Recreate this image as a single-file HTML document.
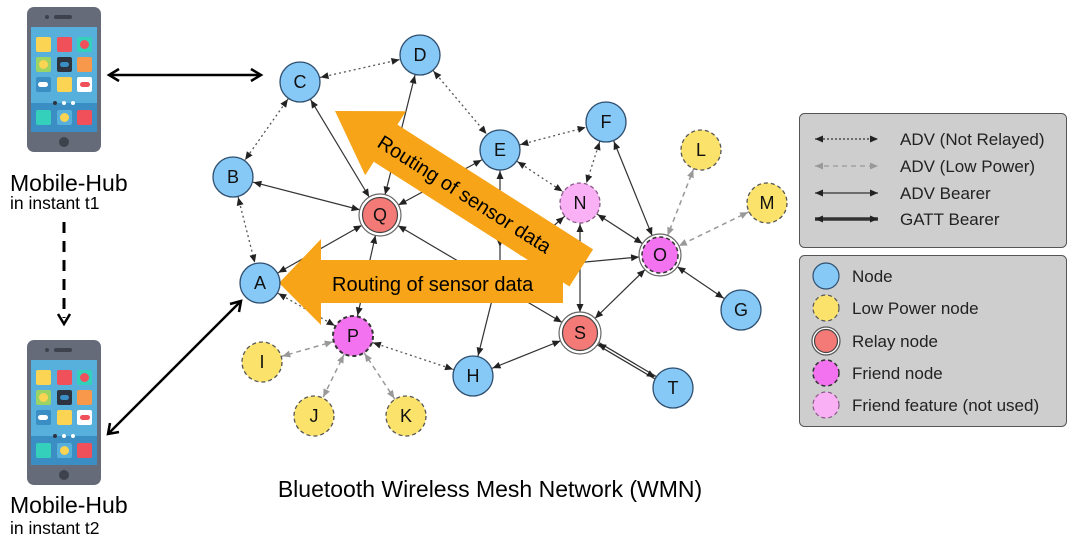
<!DOCTYPE html>
<html><head><meta charset="utf-8"><style>
html,body{margin:0;padding:0;background:#fff;width:1085px;height:549px;overflow:hidden}
svg{display:block;font-family:"Liberation Sans",Arial,sans-serif}
</style></head><body>
<svg width="1085" height="549" viewBox="0 0 1085 549" xmlns="http://www.w3.org/2000/svg">
<defs>
<marker id="ab" markerUnits="userSpaceOnUse" viewBox="-10 -5 35 10" refX="21" refY="0" markerWidth="35" markerHeight="10" orient="auto-start-reverse"><path d="M-8,-3.5 L0,0 L-8,3.5z" fill="#222"/></marker>
<marker id="ag" markerUnits="userSpaceOnUse" viewBox="-10 -5 35 10" refX="21" refY="0" markerWidth="35" markerHeight="10" orient="auto-start-reverse"><path d="M-8,-3.5 L0,0 L-8,3.5z" fill="#999"/></marker>
<marker id="al" markerUnits="userSpaceOnUse" viewBox="-10 -5 35 10" refX="0" refY="0" markerWidth="35" markerHeight="10" orient="auto-start-reverse"><path d="M-8,-3.5 L0,0 L-8,3.5z" fill="#222"/></marker>
<marker id="alg" markerUnits="userSpaceOnUse" viewBox="-10 -5 35 10" refX="0" refY="0" markerWidth="35" markerHeight="10" orient="auto-start-reverse"><path d="M-8,-3.5 L0,0 L-8,3.5z" fill="#999"/></marker>
<g id="phone">
<rect x="0" y="0" width="74" height="145" rx="7" fill="#656b78"/>
<rect x="4" y="20" width="66" height="105" fill="#57b0dc"/>
<rect x="4" y="96" width="66" height="29" fill="#3b8ec4"/>
<circle cx="20" cy="10" r="2" fill="#3d424c"/><rect x="27" y="8" width="18" height="4" rx="2" fill="#3d424c"/>
<circle cx="37" cy="135" r="5" fill="#3d424c"/>
<rect x="9" y="30" width="15" height="15" rx="2" fill="#fbd453"/>
<rect x="30" y="30" width="15" height="15" rx="2" fill="#f0505a"/>
<rect x="50" y="30" width="15" height="15" rx="2" fill="#35d0bc"/><circle cx="57.5" cy="37.5" r="4.5" fill="#f0505a"/>
<rect x="9" y="50" width="15" height="15" rx="2" fill="#9bd364"/><circle cx="16.5" cy="57.5" r="4.5" fill="#fbd453"/>
<rect x="30" y="50" width="15" height="15" rx="2" fill="#2e3340"/><rect x="33" y="55" width="9" height="5" rx="2.5" fill="#3b8ec4"/>
<rect x="50" y="50" width="15" height="15" rx="2" fill="#f7984a"/>
<rect x="9" y="70" width="15" height="15" rx="2" fill="#3b8ec4"/><rect x="11" y="75" width="10" height="5" rx="2.5" fill="#fff"/>
<rect x="30" y="70" width="15" height="15" rx="2" fill="#fbd453"/>
<rect x="50" y="70" width="15" height="15" rx="2" fill="#fff"/><rect x="53" y="75" width="10" height="5" rx="2.5" fill="#f0505a"/>
<circle cx="28" cy="96" r="2" fill="#2e3340"/><circle cx="37" cy="96" r="2" fill="#fff"/><circle cx="46" cy="96" r="2" fill="#fff"/>
<rect x="9" y="103" width="15" height="15" rx="2" fill="#35d0bc"/>
<rect x="30" y="103" width="15" height="15" rx="2" fill="#57b0dc"/><circle cx="37.5" cy="110.5" r="4.5" fill="#fbd453"/>
<rect x="50" y="103" width="15" height="15" rx="2" fill="#f0505a"/>
</g>
</defs>

<use href="#phone" x="27" y="7"/>
<use href="#phone" x="27" y="340"/>
<text x="10" y="191" font-size="23" fill="#000">Mobile-Hub</text>
<text x="10" y="209" font-size="17.5" fill="#000">in instant t1</text>
<text x="10" y="513" font-size="23" fill="#000">Mobile-Hub</text>
<text x="10" y="534" font-size="17.5" fill="#000">in instant t2</text>
<line x1="64" y1="222" x2="64" y2="318" stroke="#000" stroke-width="3" stroke-dasharray="11,8"/>
<path d="M58,314 L64,324 L70,314" fill="none" stroke="#000" stroke-width="2.5"/>
<line x1="110" y1="75" x2="260" y2="75" stroke="#000" stroke-width="2.5"/>
<path d="M119,69 L109,75 L119,81 M251,69 L261,75 L251,81" fill="none" stroke="#000" stroke-width="2.5"/>
<line x1="109" y1="433" x2="240" y2="302" stroke="#000" stroke-width="2.5"/>
<path d="M110,423 L108,434 L119,432 M230,304 L241,301 L239,312" fill="none" stroke="#000" stroke-width="2.5"/>

<g fill="none">
<g stroke="#555" stroke-width="1.3" stroke-dasharray="2,3" marker-start="url(#ab)" marker-end="url(#ab)">
<line x1="300" y1="82" x2="420" y2="55"/>
<line x1="300" y1="82" x2="233" y2="177"/>
<line x1="420" y1="55" x2="500" y2="150"/>
<line x1="233" y1="177" x2="260" y2="283"/>
<line x1="500" y1="150" x2="606" y2="122"/>
<line x1="500" y1="150" x2="580" y2="203"/>
<line x1="606" y1="122" x2="580" y2="203"/>
<line x1="260" y1="283" x2="353" y2="336"/>
<line x1="353" y1="336" x2="473" y2="376"/>
</g>
<g stroke="#999" stroke-width="1.5" stroke-dasharray="5,4" marker-start="url(#ag)" marker-end="url(#ag)">
<line x1="701" y1="150" x2="660" y2="255"/>
<line x1="767" y1="203" x2="660" y2="255"/>
<line x1="353" y1="336" x2="262" y2="362"/>
<line x1="353" y1="336" x2="314" y2="416"/>
<line x1="353" y1="336" x2="406" y2="416"/>
</g>
<g stroke="#333" stroke-width="1.2" marker-start="url(#ab)" marker-end="url(#ab)">
<line x1="300" y1="82" x2="380" y2="215"/>
<line x1="420" y1="55" x2="380" y2="215"/>
<line x1="233" y1="177" x2="380" y2="215"/>
<line x1="260" y1="283" x2="380" y2="215"/>
<line x1="380" y1="215" x2="500" y2="150"/>
<line x1="380" y1="215" x2="580" y2="333"/>
<line x1="500" y1="150" x2="500" y2="268"/>
<line x1="606" y1="122" x2="660" y2="255"/>
<line x1="580" y1="203" x2="660" y2="255"/>
<line x1="580" y1="203" x2="580" y2="333"/>
<line x1="660" y1="255" x2="580" y2="333"/>
<line x1="660" y1="255" x2="741" y2="310"/>
<line x1="353" y1="336" x2="380" y2="215"/>
<line x1="473" y1="376" x2="580" y2="333"/>
<line x1="473" y1="376" x2="500" y2="268"/>
<line x1="500" y1="270" x2="660" y2="255"/>
<line x1="520" y1="255" x2="580" y2="203"/>
</g>
<line x1="580" y1="333" x2="673" y2="388" stroke="#333" stroke-width="4"/>
<line x1="580" y1="333" x2="673" y2="388" stroke="#fff" stroke-width="1.5" marker-start="url(#ab)" marker-end="url(#ab)"/>
</g>

<g fill="#f7a418">
<polygon transform="translate(335,111) rotate(32.5)" points="0,0 60,-38 60,-22 292,-22 292,22 60,22 60,38"/>
<polygon points="279,283 321,239 321,260 563,260 563,303 321,303 321,325"/>
</g>
<text transform="translate(376,146) rotate(32.5)" font-size="20" fill="#000">Routing of sensor data</text>
<text x="332" y="291" font-size="20" fill="#000">Routing of sensor data</text>

<g stroke="#2f4f6f" stroke-width="1.3" fill="#86c9f7">
<circle cx="300" cy="82" r="20"/><circle cx="420" cy="55" r="20"/><circle cx="233" cy="177" r="20"/>
<circle cx="500" cy="150" r="20"/><circle cx="606" cy="122" r="20"/><circle cx="260" cy="283" r="20"/>
<circle cx="741" cy="310" r="20"/><circle cx="473" cy="376" r="20"/><circle cx="673" cy="388" r="20"/>
</g>
<g stroke="#555" stroke-width="1.3" stroke-dasharray="4,3" fill="#fbe26a">
<circle cx="701" cy="150" r="20"/><circle cx="767" cy="203" r="20"/><circle cx="262" cy="362" r="20"/>
<circle cx="314" cy="416" r="20"/><circle cx="406" cy="416" r="20"/>
</g>
<circle cx="580" cy="203" r="20" fill="#f9b0f5" stroke="#8a5a88" stroke-width="1.3" stroke-dasharray="4,3"/>
<circle cx="353" cy="336" r="20" fill="#f272f0" stroke="#333" stroke-width="2" stroke-dasharray="4,3"/>
<circle cx="660" cy="255" r="21" fill="#fff" stroke="#666" stroke-width="1.2"/>
<circle cx="660" cy="255" r="18" fill="#f272f0" stroke="#333" stroke-width="1.5" stroke-dasharray="4,3"/>
<g fill="#fff" stroke="#666" stroke-width="1.2"><circle cx="380" cy="215" r="21"/><circle cx="580" cy="333" r="21"/></g>
<g fill="#f47a78" stroke="#444" stroke-width="1.2"><circle cx="380" cy="215" r="17.5"/><circle cx="580" cy="333" r="17.5"/></g>
<g font-size="18" fill="#111" text-anchor="middle">
<text x="300" y="88">C</text><text x="420" y="61">D</text><text x="233" y="183">B</text><text x="500" y="156">E</text>
<text x="606" y="128">F</text><text x="701" y="156">L</text><text x="767" y="209">M</text><text x="580" y="209">N</text>
<text x="380" y="221">Q</text><text x="260" y="289">A</text><text x="660" y="261">O</text><text x="741" y="316">G</text>
<text x="353" y="342">P</text><text x="580" y="339">S</text><text x="473" y="382">H</text><text x="673" y="394">T</text>
<text x="262" y="368">I</text><text x="314" y="422">J</text><text x="406" y="422">K</text>
</g>

<text x="490" y="497" font-size="23" text-anchor="middle" fill="#000">Bluetooth Wireless Mesh Network (WMN)</text>

<rect x="799.5" y="113.5" width="267" height="134" rx="5" fill="#cecece" stroke="#555"/>
<rect x="799.5" y="255.5" width="267" height="171" rx="5" fill="#cecece" stroke="#555"/>
<g fill="none">
<line x1="815" y1="139" x2="878" y2="139" stroke="#333" stroke-width="1.2" stroke-dasharray="2,2" marker-start="url(#al)" marker-end="url(#al)"/>
<line x1="815" y1="166" x2="878" y2="166" stroke="#999" stroke-width="1.2" stroke-dasharray="5,4" marker-start="url(#alg)" marker-end="url(#alg)"/>
<line x1="815" y1="193" x2="878" y2="193" stroke="#333" stroke-width="1.2" marker-start="url(#al)" marker-end="url(#al)"/>
<line x1="815" y1="219" x2="878" y2="219" stroke="#333" stroke-width="3.5" marker-start="url(#al)" marker-end="url(#al)"/>
</g>
<g font-size="17" fill="#222">
<text x="900" y="145">ADV (Not Relayed)</text>
<text x="900" y="172">ADV (Low Power)</text>
<text x="900" y="199">ADV Bearer</text>
<text x="900" y="225">GATT Bearer</text>
<text x="852" y="282">Node</text>
<text x="852" y="314">Low Power node</text>
<text x="852" y="347">Relay node</text>
<text x="852" y="379">Friend node</text>
<text x="852" y="411">Friend feature (not used)</text>
</g>
<circle cx="826" cy="276" r="13" fill="#86c9f7" stroke="#2f4f6f" stroke-width="1.2"/>
<circle cx="826" cy="308" r="13" fill="#fbe26a" stroke="#555" stroke-width="1.2" stroke-dasharray="4,3"/>
<circle cx="826" cy="341" r="14" fill="#fff" stroke="#555" stroke-width="1.2"/>
<circle cx="826" cy="341" r="11.5" fill="#f47a78" stroke="#444" stroke-width="1.2"/>
<circle cx="826" cy="373" r="13" fill="#f272f0" stroke="#333" stroke-width="1.5" stroke-dasharray="4,3"/>
<circle cx="826" cy="405" r="13" fill="#f9b0f5" stroke="#8a5a88" stroke-width="1.2" stroke-dasharray="4,3"/>
</svg>
</body></html>
